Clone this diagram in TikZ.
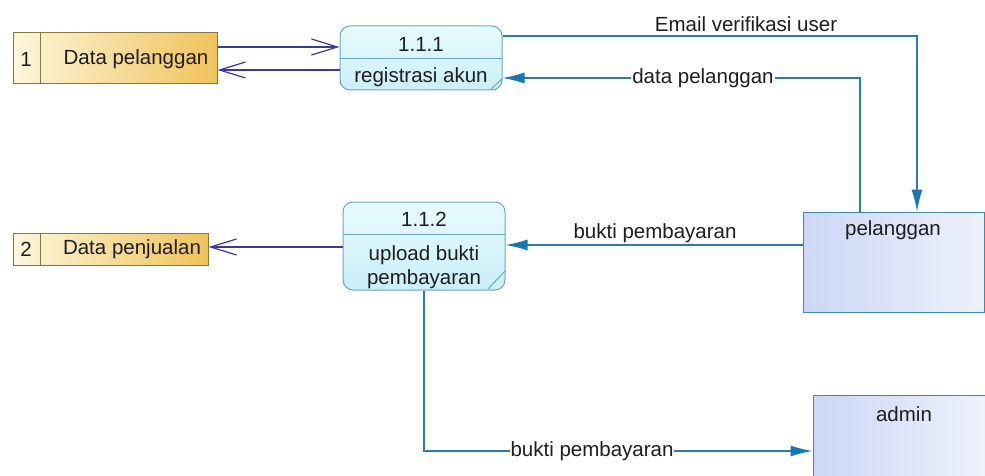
\documentclass[tikz,border=0pt]{standalone}
\usepackage{fontspec}
\setmainfont{Liberation Sans}
\usetikzlibrary{arrows.meta,calc}

\definecolor{procfillA}{HTML}{E8FBFE}
\definecolor{procfillB}{HTML}{C9EFF8}
\definecolor{procdraw}{HTML}{6FA8BD}
\definecolor{storeL}{HTML}{FDF6DC}
\definecolor{storeR}{HTML}{EFC35A}
\definecolor{storedraw}{HTML}{857A3C}
\definecolor{entL}{HTML}{CCD7F6}
\definecolor{entR}{HTML}{EEF1FB}
\definecolor{entdraw}{HTML}{3D8BA6}
\definecolor{flowcol}{HTML}{2B7FA3}
\definecolor{headcol}{HTML}{1A78B0}
\definecolor{storeflowcol}{HTML}{3838A6}
\definecolor{txtcol}{HTML}{1E1E1E}

\tikzset{
  proc/.style={draw=procdraw, line width=1pt, rounded corners=10pt,
    top color=procfillA, bottom color=procfillB, inner sep=0pt},
  procline/.style={draw=procdraw, line width=1pt},
  storebox/.style={draw=storedraw, line width=1pt,
    left color=storeL, right color=storeR, inner sep=0pt},
  entity/.style={draw=entdraw, line width=1pt,
    left color=entL, right color=entR, inner sep=0pt},
  txt/.style={font=\fontsize{20.5}{23}\selectfont, text=txtcol, inner sep=0pt},
  flowlabel/.style={txt, fill=white, inner xsep=1pt, inner ysep=1pt},
  flow/.style={draw=flowcol, line width=1.3pt,
    -{Latex[length=22pt,width=11pt,color=headcol]}},
  storeflow/.style={draw=storeflowcol, line width=1.3pt,
    -{Straight Barb[length=26pt,width=16pt,line width=1.2pt]}},
}

\begin{document}
\begin{tikzpicture}[x=1pt,y=-1pt]
\useasboundingbox[fill=white] (0,0) rectangle (985,476);
\clip (0,0) rectangle (985,476);

% data stores
\node[storebox, minimum width=204pt, minimum height=51pt] (s1) at (115,58.5) {};
\draw[storedraw, line width=1pt] (40,33) -- (40,84);
\node[txt] (s1id) at (26,59) {1};
\node[txt] (s1name) at (136,59) {Data pelanggan};

\node[storebox, minimum width=195pt, minimum height=32pt] (s2) at (110.5,249) {};
\draw[storedraw, line width=1pt] (40,233) -- (40,265);
\node[txt] (s2id) at (26,249) {2};
\node[txt] (s2name) at (132,249) {Data penjualan};

% processes
\node[proc, minimum width=162pt, minimum height=64pt] (p1) at (421,58) {};
\draw[procline] (340,59) -- (502,59);
\draw[procline] (491,89) -- (502,79);
\begin{scope}
  \clip[rounded corners=10pt] (340,26) rectangle (502,89);
  \node[txt] (p1id) at (421,44) {1.1.1};
  \node[txt] (p1name) at (421,77) {registrasi akun};
\end{scope}

\node[proc, minimum width=162pt, minimum height=88pt] (p2) at (424,246) {};
\draw[procline] (343,234) -- (505,234);
\draw[procline] (488,289) -- (505,271);
\begin{scope}
  \clip[rounded corners=10pt] (343,202) rectangle (505,288);
  \node[txt] (p2id) at (424,219) {1.1.2};
  \node[txt] (p2nameA) at (424,255) {upload bukti};
  \node[txt] (p2nameB) at (424,279) {pembayaran};
\end{scope}

% external entities
\node[entity, minimum width=181pt, minimum height=100pt] (pel) at (893.5,262) {};
\node[txt] (pelname) at (893,230) {pelanggan};
\node[entity, minimum width=172pt, minimum height=112pt] (adm) at (899,451) {};
\node[txt] (admname) at (904,414) {admin};

% flows between data stores and processes
\draw[storeflow] ([yshift=11.5pt]s1.east) -- ([yshift=11pt]p1.west);
\draw[storeflow] ([yshift=-12pt]p1.west) -- ([yshift=-11.5pt]s1.east);
\draw[storeflow] ([yshift=-1pt]p2.west) -- ([yshift=-1pt]p2.west -| s2.east);

% flows with external entities
\draw[flow] ([yshift=22pt]p1.east) -| ([xshift=23.5pt]pel.north);
\node[txt] (lblemail) at (746,24) {Email verifikasi user};

\draw[flow] ([xshift=-33.5pt]pel.north) |- ([yshift=-20pt]p1.east);
\node[flowlabel] (lbldata) at (703,78) {data pelanggan};

\draw[flow] ([yshift=17pt]pel.west) -- ([yshift=1pt]p2.east);
\node[txt] (lblbukti1) at (655,233) {bukti pembayaran};

\draw[flow] (p2.south) |- (adm.west);
\node[flowlabel] (lblbukti2) at (592,451) {bukti pembayaran};
\end{tikzpicture}
\end{document}
